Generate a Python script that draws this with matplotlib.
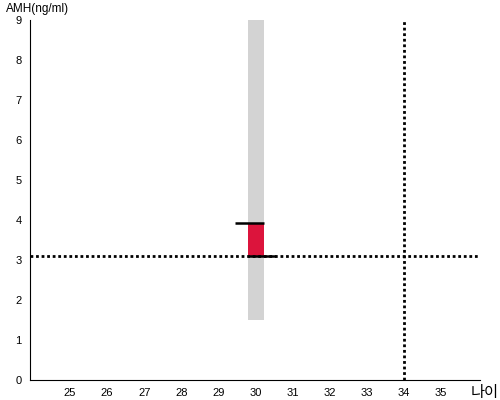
import matplotlib.pyplot as plt

plt.rcParams['font.family'] = ['Liberation Sans', 'Noto Sans CJK KR', 'DejaVu Sans']

# data
age = 30
band_low, band_high = 1.5, 9.0       # grey range band
amh_low, amh_high = 3.1, 3.93        # red bar
ref_amh = 3.1                        # horizontal dotted reference
ref_age = 34                         # vertical dotted reference
x_ticks = [25, 26, 27, 28, 29, 30, 31, 32, 33, 34, 35]
y_ticks = [0, 1, 2, 3, 4, 5, 6, 7, 8, 9]

fig = plt.figure(figsize=(5, 4), dpi=100)
ax = fig.add_axes([0.06, 0.05, 0.90, 0.90])

w = 0.43
ax.bar(age, band_high - band_low, bottom=band_low, width=w, color='#d3d3d3', zorder=1)
ax.bar(age, amh_high - amh_low, bottom=amh_low, width=w, color='#dc143c', zorder=2)
ax.hlines(amh_high, age - w / 2 - 0.33, age + w / 2, color='black', lw=1.8, zorder=3)
ax.hlines(amh_low, age - w / 2, age + w / 2 + 0.33, color='black', lw=1.8, zorder=3)

ax.axhline(ref_amh, color='black', ls=(0, (1, 1)), lw=2, zorder=2)
ax.axvline(ref_age, color='black', ls=(0, (1, 1)), lw=2, zorder=2)

ax.set_xlim(23.92, 36.05)
ax.set_ylim(0, 9)
ax.set_xticks(x_ticks)
ax.set_yticks(y_ticks)
ax.tick_params(length=0, labelsize=8, pad=6)
for s in ['top', 'right']:
    ax.spines[s].set_visible(False)

fig.text(0.012, 0.977, 'AMH(ng/ml)', fontsize=8.5, va='center')
fig.text(0.942, 0.018, '나이', fontsize=11, va='center')

fig.savefig('out.png')
